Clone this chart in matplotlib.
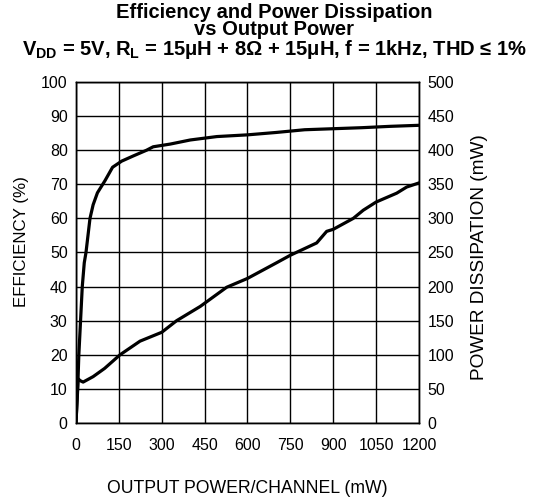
import numpy as np, matplotlib
matplotlib.use("Agg"); import matplotlib.pyplot as plt

plt.rcParams["font.family"] = ["Liberation Sans", "DejaVu Sans"]
plt.rcParams["mathtext.fontset"] = "custom"
plt.rcParams["mathtext.rm"] = "Liberation Sans:bold"
plt.rcParams["mathtext.bf"] = "Liberation Sans:bold"

# efficiency (%) vs output power (mW)
eff_x = [0, 6, 10, 16, 22, 29, 35, 42, 49, 60, 75, 101, 128, 160, 200, 247, 270, 330, 400, 493, 600, 700, 800, 900, 1000, 1100, 1200]
eff_y = [0, 10, 20, 30, 40, 47, 50, 55, 60, 64, 67.5, 71, 75, 76.8, 78.3, 80, 81, 81.8, 83, 84, 84.5, 85.2, 86, 86.3, 86.6, 87, 87.3]
# power dissipation (mW) vs output power (mW)
pd_x = [0, 7, 15, 25, 60, 100, 154, 224, 300, 352, 435, 527, 600, 702, 750, 842, 877, 900, 970, 1005, 1050, 1122, 1157, 1200]
pd_y = [0, 65, 62, 60, 68, 80, 100, 120, 133, 150, 171, 199, 212, 235, 246, 264, 281, 284, 300, 312, 324, 337, 346, 352]
title = ["Efficiency and Power Dissipation", "vs Output Power",
         r"V$_{\rm DD}$ = 5V, R$_{\rm L}$ = 15μH + 8Ω + 15μH, f = 1kHz, THD ≤ 1%"]

xt = np.arange(0, 1201, 150)
fig = plt.figure(figsize=(5.49, 5.0), dpi=100)
ax = fig.add_axes([0.1384, 0.154, 0.6248, 0.682])
ax2 = ax.twinx()
ax.plot(eff_x, eff_y, color="black", lw=2.3, solid_joinstyle="round", zorder=3)
ax2.plot(pd_x, pd_y, color="black", lw=2.3, solid_joinstyle="round", zorder=3)
ax.set_xlim(0, 1200); ax.set_ylim(0, 100); ax2.set_ylim(0, 500)
ax.set_xticks(xt); ax.set_yticks(np.arange(0, 101, 10)); ax2.set_yticks(np.arange(0, 501, 50))
ax.grid(True, color="black", lw=1.0)
for a in (ax, ax2):
    a.tick_params(length=0, labelsize=11.5, pad=6)
    for s in a.spines.values(): s.set_linewidth(1.0)
ax.tick_params(axis="x", pad=11)
ax.set_xlabel("OUTPUT POWER/CHANNEL (mW)", fontsize=12.7, labelpad=19)
fig.text(22/549, 1-242/500, "EFFICIENCY (%)", rotation=90, ha="center", va="center", fontsize=12.2)
fig.text(479/549, 1-257/500, "POWER DISSIPATION (mW)", rotation=90, ha="center", va="center", fontsize=13.7)
fig.text(0.5, 0.995, "\n".join(title), ha="center", va="top", ma="center",
         fontsize=14.5, fontweight="bold", linespacing=0.92)
plt.savefig("out.png", dpi=100)
